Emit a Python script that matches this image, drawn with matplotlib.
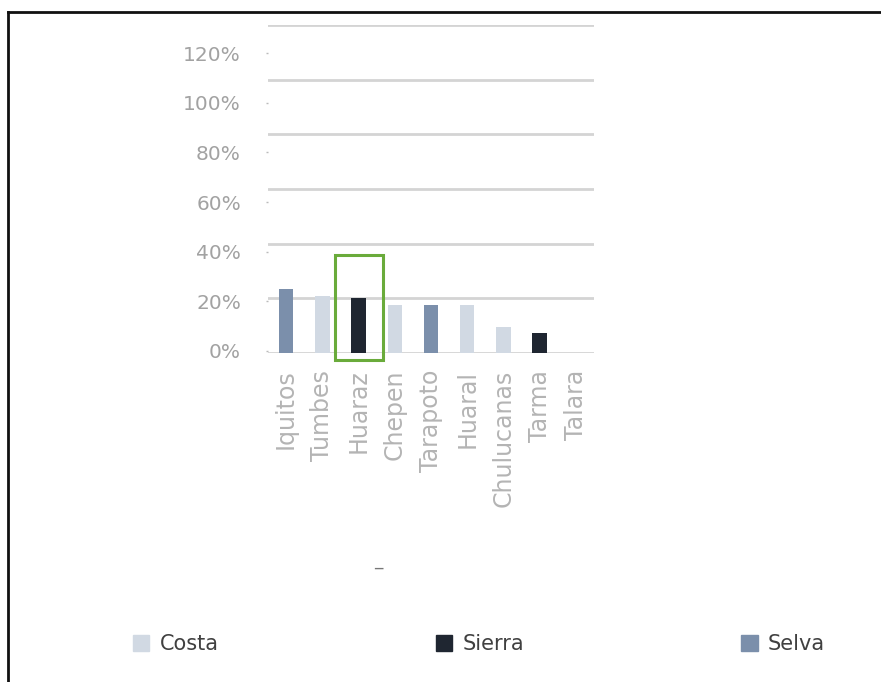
import matplotlib.pyplot as plt
from matplotlib.patches import Rectangle
from matplotlib.lines import Line2D

# DATA
ciudades = ["Iquitos", "Tumbes", "Huaraz", "Chepen", "Tarapoto",
            "Huaral", "Chulucanas", "Tarma", "Talara"]
valores = [0.235, 0.21, 0.20, 0.175, 0.175, 0.175, 0.095, 0.075, 0.0]
region = ["Selva", "Costa", "Sierra", "Costa", "Selva",
          "Costa", "Costa", "Sierra", "Costa"]
yticks = [0, 0.2, 0.4, 0.6, 0.8, 1.0, 1.2]
ytick_labels = ["0%", "20%", "40%", "60%", "80%", "100%", "120%"]

colores = {"Costa": "#d1d9e3", "Sierra": "#1f2631", "Selva": "#7b8fab"}

W, H = 881, 682
fig = plt.figure(figsize=(W / 100, H / 100), dpi=100)
plt.rcParams['font.family'] = ['DejaVu Sans']

# axes: x 268..594, y 25..353 (pixels)
ax = fig.add_axes([268 / W, 1 - 353 / H, (594 - 268) / W, (353 - 25) / H])
x = range(len(ciudades))
ax.bar(x, valores, width=0.4, color=[colores[r] for r in region], zorder=3)
ax.set_xlim(-0.5, len(ciudades) - 0.5)
ax.set_ylim(0, 1.2)
ax.set_yticks(yticks)
ax.set_yticklabels([])
ax.tick_params(axis="y", length=0)
ax.grid(axis="y", color="#d4d4d4", linewidth=2, zorder=0)
ax.set_xticks(list(x))
ax.set_xticklabels(ciudades, rotation=90, fontsize=17, color="#b4b4b4")
ax.tick_params(axis="x", length=0, pad=12)
for s in ax.spines.values():
    s.set_visible(False)

# y labels (slightly offset from gridlines as in the original)
ax2 = ax.twinx()
ax2.set_ylim(-2 / 248.3, 1.2 + 28 / 248.3)
ax2.yaxis.set_ticks_position("left")
ax2.set_yticks(yticks)
ax2.set_yticklabels(ytick_labels, fontsize=14.5, color="#a2a2a2")
ax2.tick_params(axis="y", length=1.5, width=1, color="#bbbbbb", pad=18)
for s in ax2.spines.values():
    s.set_visible(False)

# highlight box around Huaraz
ax.add_patch(Rectangle((1.35, -0.026), 1.33, 0.385, fill=False,
                       edgecolor="#6aab3b", linewidth=2.2, zorder=5,
                       clip_on=False))

# small stray mark under labels
fig.text(378 / W, 1 - 560 / H, "_", fontsize=12, color="#777777",
         ha="center", va="center")

# legend
handles = [Rectangle((0, 0), 1, 1, color=colores[k]) for k in ["Costa", "Sierra", "Selva"]]
fig.legend(handles, ["Costa", "Sierra", "Selva"], loc="center",
           bbox_to_anchor=(479 / W, 1 - 644 / H), ncol=3, frameon=False,
           fontsize=15, handlelength=0.8, handleheight=0.8,
           handletextpad=0.5, columnspacing=10.4, labelcolor="#404040")

# frame of the screenshot
fig.add_artist(Line2D([8 / W, 8 / W], [0, 1 - 12 / H], color="#111111",
                      linewidth=2, transform=fig.transFigure))
fig.add_artist(Line2D([8 / W, 1], [1 - 12 / H, 1 - 12 / H], color="#111111",
                      linewidth=2, transform=fig.transFigure))

fig.savefig("out.png", dpi=100)
